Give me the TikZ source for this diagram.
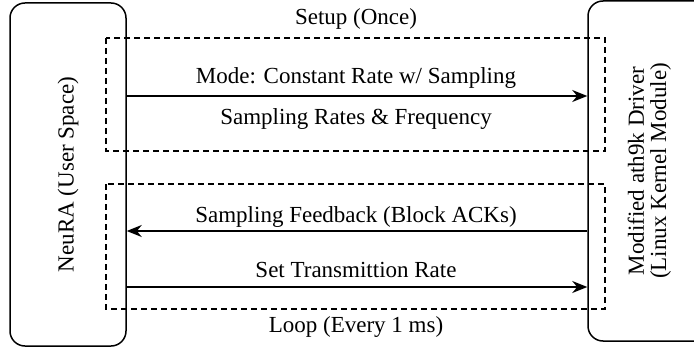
\documentclass[tikz,border=0pt]{standalone}
\usepackage{fontspec}
\setmainfont{Liberation Serif}
\usetikzlibrary{arrows.meta}

\begin{document}
\begin{tikzpicture}[x=0.5pt, y=-0.5pt, line width=0.75pt,
    every node/.style={font=\fontsize{11.5}{10.5}\selectfont},
    box/.style={draw, rounded corners=7.5pt, inner sep=0pt},
    phase/.style={draw, dash pattern=on 3pt off 2pt, line width=0.65pt},
    msg/.style={-{Stealth[length=7.5pt, width=6pt]}},
    lbl/.style={anchor=base, inner sep=0pt}]
    \useasboundingbox (0,0) rectangle (694,347);
    \clip (0,0) rectangle (694,347);

    % 用户空间与内核驱动
    \node[box, minimum width=58pt, minimum height=171.5pt] (neura) at (68,174.5)
        {\rotatebox{90}{NeuRA (User Space)}};
    \node[box, minimum width=62pt, minimum height=170pt] (driver) at (650,171)
        {\rotatebox{90}{\begin{tabular}{@{}c@{}}Modified ath9k Driver\\(Linux Kernel Module)\end{tabular}}};

    % 两个阶段 (虚线框)
    \draw[phase] (106,38) rectangle (605,151);
    \draw[phase] (106,184) rectangle (605,309);

    % 消息
    \draw[msg] (neura.east |- 0,96) -- (driver.west |- 0,96);
    \draw[msg] (driver.west |- 0,231) -- (neura.east |- 0,231);
    \draw[msg] (neura.east |- 0,287) -- (driver.west |- 0,287);

    % 文字标注
    \node[lbl] (setup) at (356,25) {Setup (Once)};
    \node[lbl] (mode) at (356,84) {Mode: Constant Rate w/ Sampling};
    \node[lbl] (rates) at (356,125) {Sampling Rates \& Frequency};
    \node[lbl] (feedback) at (356,222) {Sampling Feedback (Block ACKs)};
    \node[lbl] (settx) at (356,277) {Set Transmittion Rate};
    \node[lbl] (loop) at (356,332) {Loop (Every 1 ms)};
\end{tikzpicture}
\end{document}
